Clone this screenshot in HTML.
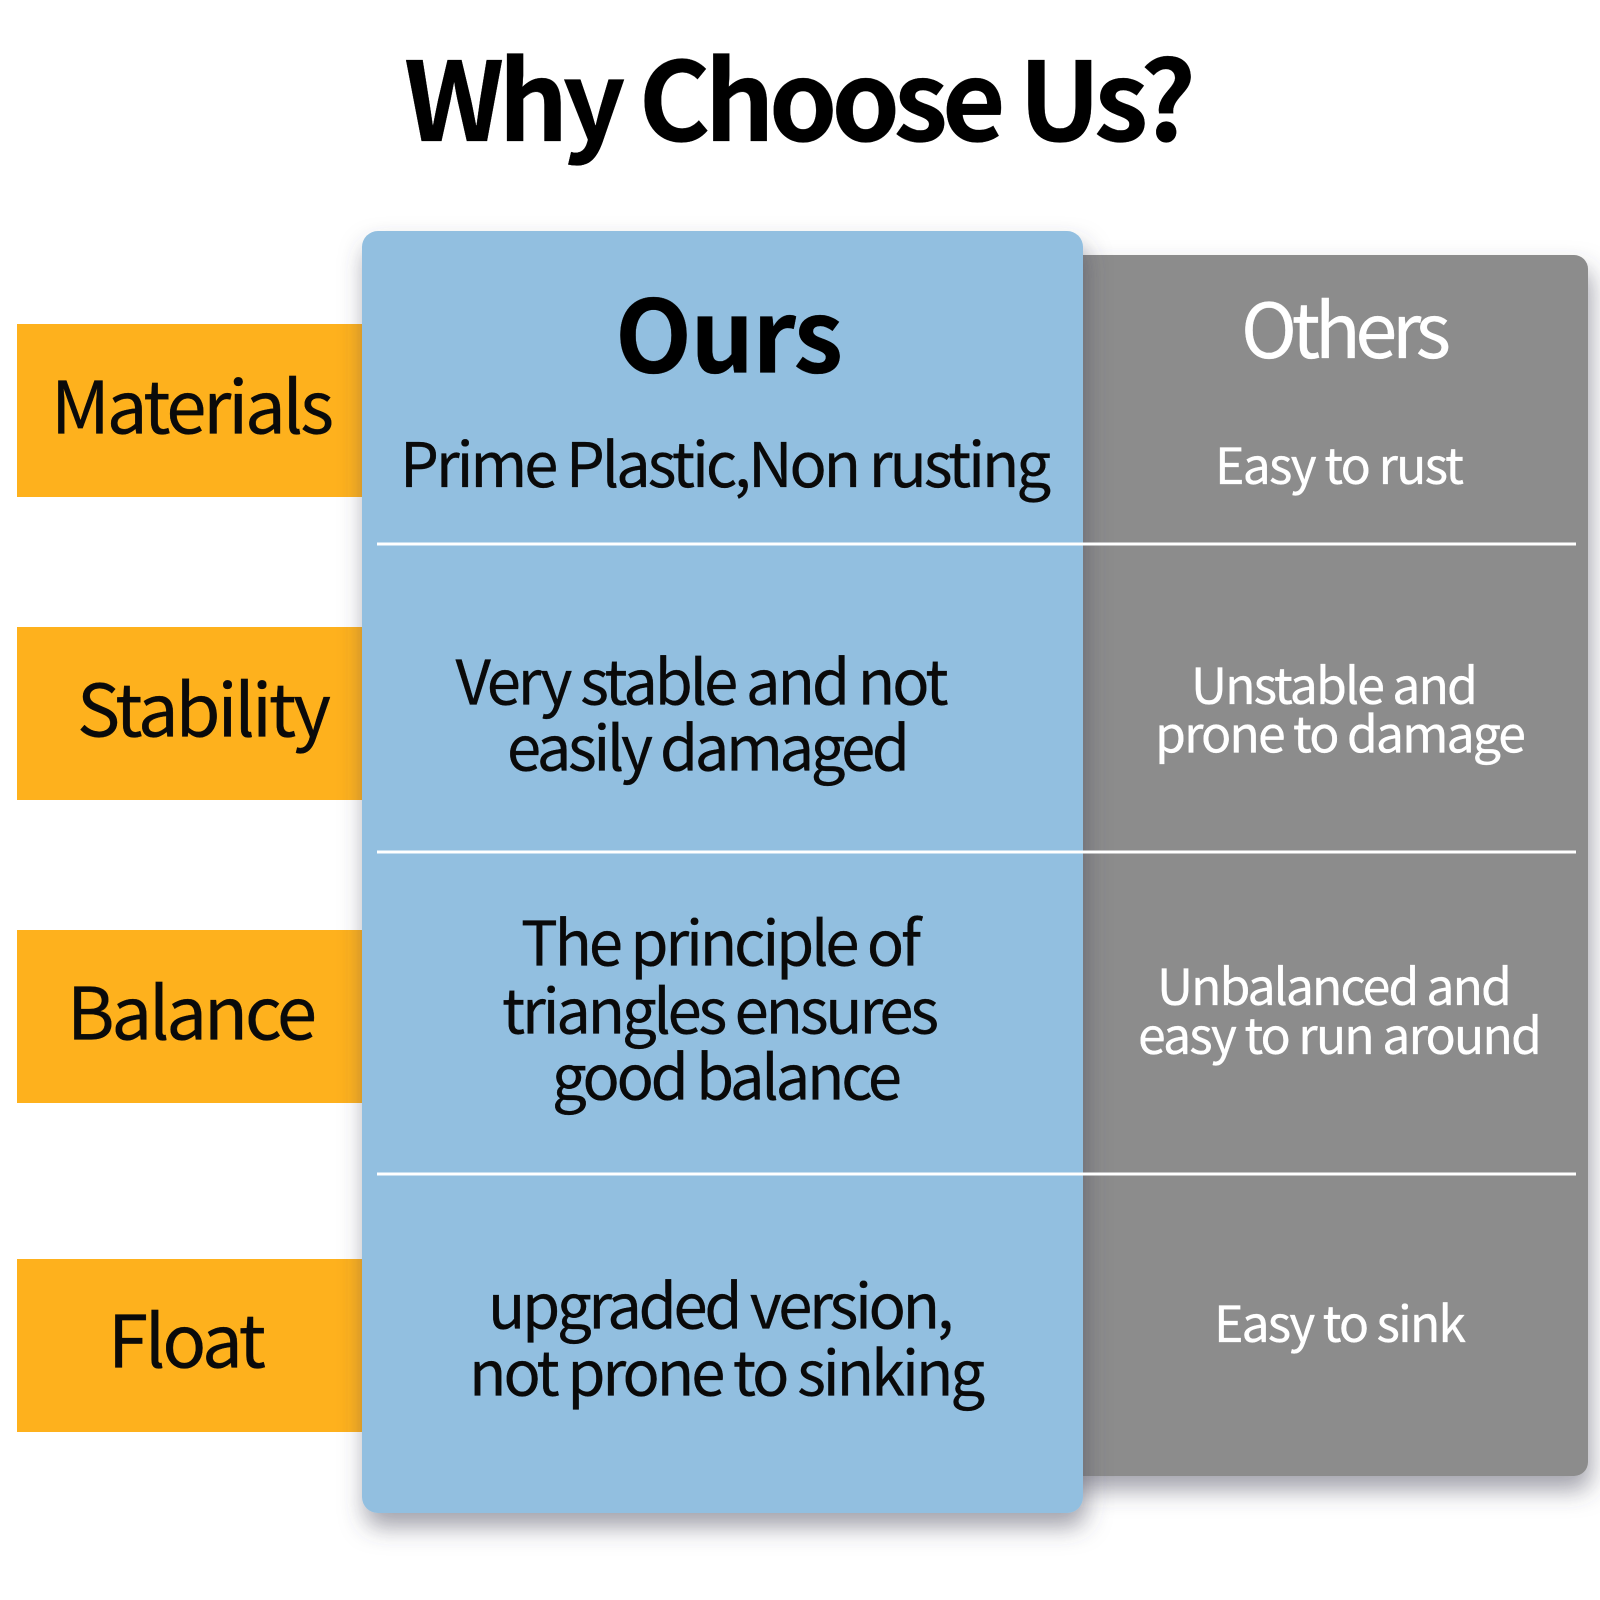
<!DOCTYPE html>
<html><head><meta charset="utf-8"><style>
html,body{margin:0;padding:0;background:#fff}
svg{display:block}
text{font-family:"Noto Sans CJK SC","Liberation Sans",sans-serif;font-weight:400;fill:#0a0a0a;stroke:#0a0a0a;stroke-width:.3px}
.w{fill:#fff;stroke:#fff}.b{font-weight:700;fill:#000;stroke:#000}
</style></head><body>
<svg xmlns="http://www.w3.org/2000/svg" width="1600" height="1600" viewBox="0 0 1600 1600">
<defs>
<filter id="s" x="-10%" y="-10%" width="120%" height="120%"><feDropShadow dx="3" dy="14" stdDeviation="12" flood-color="#44445a" flood-opacity=".5"/></filter>
</defs>
<rect width="1600" height="1600" fill="#fff"/>
<text class="b" x="404" y="141" font-size="109.5" textLength="792" lengthAdjust="spacing">Why Choose Us?</text>
<g fill="#feb11d">
<rect x="17" y="324" width="350" height="173"/>
<rect x="17" y="627" width="350" height="173"/>
<rect x="17" y="930" width="350" height="173"/>
<rect x="17" y="1259" width="350" height="173"/>
</g>
<rect x="1060" y="255" width="528" height="1221" rx="14" fill="#8c8c8c" filter="url(#s)"/>
<rect x="362" y="231" width="721" height="1282" rx="16" fill="#92bfe0" filter="url(#s)"/>
<g fill="#fff">
<rect x="377" y="542.5" width="1199" height="3"/>
<rect x="377" y="850.5" width="1199" height="3"/>
<rect x="377" y="1172.5" width="1199" height="3"/>
</g>
<g font-size="72.5">
<text x="51" y="433.5" textLength="283" lengthAdjust="spacing">Materials</text>
<text x="77" y="736.5" textLength="254" lengthAdjust="spacing">Stability</text>
<text x="67" y="1039.5" textLength="250" lengthAdjust="spacing">Balance</text>
<text x="108" y="1367.5" textLength="158" lengthAdjust="spacing">Float</text>
</g>
<text class="b" x="615" y="372.5" font-size="100" textLength="228" lengthAdjust="spacing">Ours</text>
<text class="w" x="1241" y="358" font-size="75.5" textLength="210" lengthAdjust="spacing">Others</text>
<g font-size="61.5">
<text x="400" y="487" textLength="651" lengthAdjust="spacing">Prime Plastic,Non rusting</text>
<text x="455.5" y="704.5" textLength="493" lengthAdjust="spacing">Very stable and not</text>
<text x="507" y="770.5" textLength="403" lengthAdjust="spacing">easily damaged</text>
<text x="521" y="965.5" textLength="400" lengthAdjust="spacing">The principle of</text>
<text x="502" y="1033.5" textLength="437" lengthAdjust="spacing">triangles ensures</text>
<text x="552" y="1099.5" textLength="350" lengthAdjust="spacing">good balance</text>
<text x="488" y="1328.5" textLength="466" lengthAdjust="spacing">upgraded version,</text>
<text x="469" y="1395.5" textLength="516" lengthAdjust="spacing">not prone to sinking</text>
</g>
<g font-size="50">
<text class="w" x="1215" y="484" textLength="249" lengthAdjust="spacing">Easy to rust</text>
<text class="w" x="1191" y="704" textLength="287" lengthAdjust="spacing">Unstable and</text>
<text class="w" x="1155" y="752.5" textLength="371" lengthAdjust="spacing">prone to damage</text>
<text class="w" x="1157" y="1005" textLength="355" lengthAdjust="spacing">Unbalanced and</text>
<text class="w" x="1138" y="1054" textLength="404" lengthAdjust="spacing">easy to run around</text>
<text class="w" x="1214" y="1342" textLength="252" lengthAdjust="spacing">Easy to sink</text>
</g>
</svg>
</body></html>
